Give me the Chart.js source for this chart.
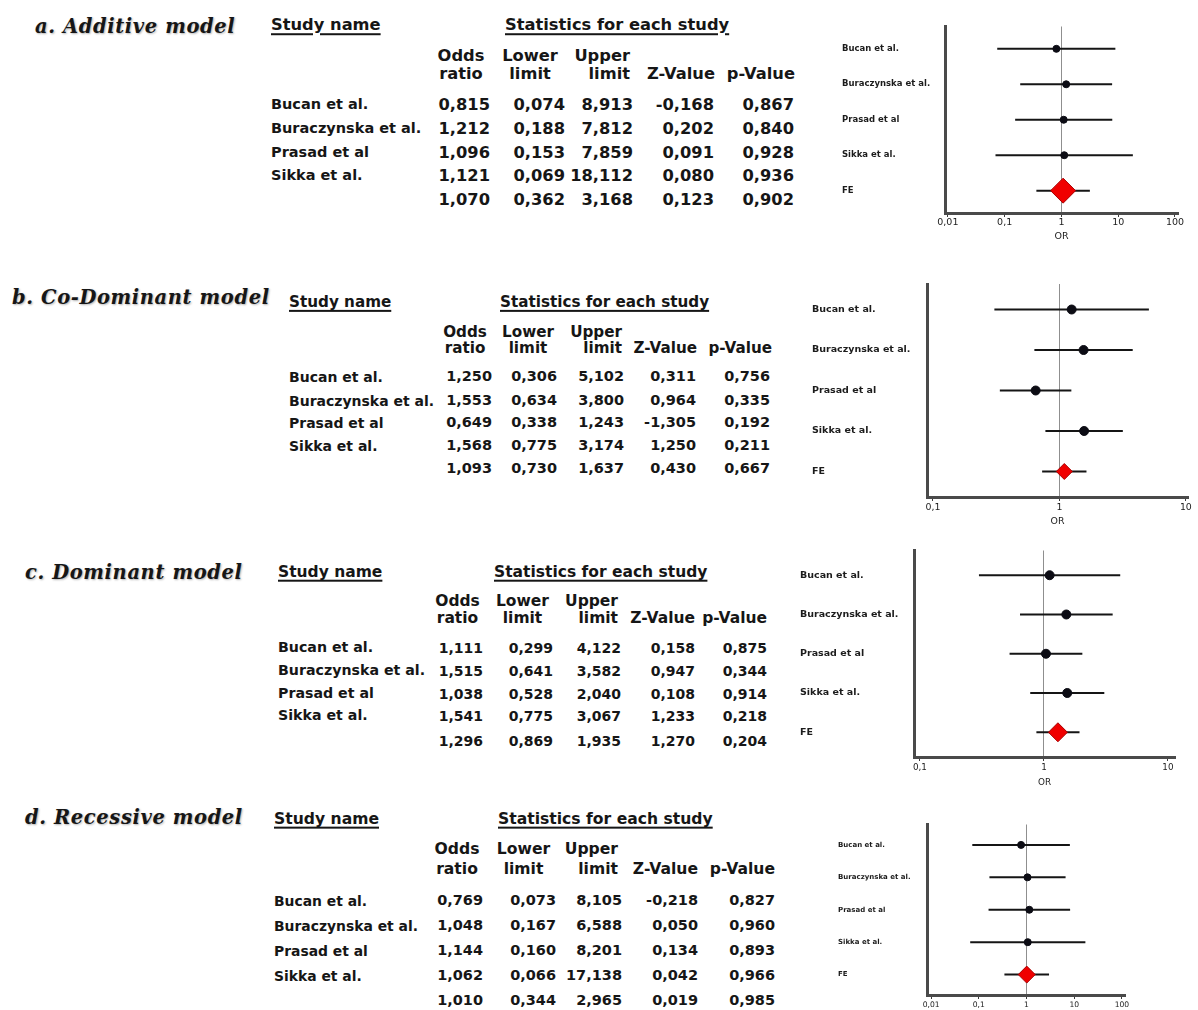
<!DOCTYPE html>
<html>
<head>
<meta charset="utf-8">
<script src="https://cdn.jsdelivr.net/npm/chart.js@4.4.1/dist/chart.umd.min.js"></script>
<style>
  html, body { margin: 0; padding: 0; background: #fff; overflow: hidden; }
  #page { position: relative; width: 1198px; height: 1010px; overflow: hidden;
          font-family: "DejaVu Sans", sans-serif; color: #161616; }
  .t { position: absolute; white-space: nowrap; line-height: 1.2; }
  .title { font-family: "DejaVu Serif", serif; font-weight: bold; font-style: italic;
           letter-spacing: 0.6px; text-shadow: 1px 1px 2px rgba(0,0,0,0.3); }
  .hd { font-weight: bold; text-decoration: underline; text-decoration-thickness: 2px;
        text-underline-offset: 3px; }
  .b { font-weight: bold; }
  canvas { position: absolute; filter: blur(0.3px); }
</style>
</head>
<body>
<div id="page"></div>
<script>
// ---- study rows and axis ticks ----
const studies = ['Bucan et al.', 'Buraczynska et al.', 'Prasad et al', 'Sikka et al.'];
const pooledLabel = 'FE';
const columnHeads = [['Odds', 'ratio'], ['Lower', 'limit'], ['Upper', 'limit'], ['', 'Z-Value'], ['', 'p-Value']];
const axisTicksWide = [0.01, 0.1, 1, 10, 100];
const axisTicksNarrow = [0.1, 1, 10];

// ---- a. Additive model (four studies, then fixed-effect pooled row) ----
const additiveOR    = [0.815, 1.212, 1.096, 1.121, 1.070];
const additiveLower = [0.074, 0.188, 0.153, 0.069, 0.362];
const additiveUpper = [8.913, 7.812, 7.859, 18.112, 3.168];
const additiveZ     = [-0.168, 0.202, 0.091, 0.080, 0.123];
const additiveP     = [0.867, 0.840, 0.928, 0.936, 0.902];

// ---- b. Co-Dominant model ----
const coDominantOR    = [1.250, 1.553, 0.649, 1.568, 1.093];
const coDominantLower = [0.306, 0.634, 0.338, 0.775, 0.730];
const coDominantUpper = [5.102, 3.800, 1.243, 3.174, 1.637];
const coDominantZ     = [0.311, 0.964, -1.305, 1.250, 0.430];
const coDominantP     = [0.756, 0.335, 0.192, 0.211, 0.667];

// ---- c. Dominant model ----
const dominantOR    = [1.111, 1.515, 1.038, 1.541, 1.296];
const dominantLower = [0.299, 0.641, 0.528, 0.775, 0.869];
const dominantUpper = [4.122, 3.582, 2.040, 3.067, 1.935];
const dominantZ     = [0.158, 0.947, 0.108, 1.233, 1.270];
const dominantP     = [0.875, 0.344, 0.914, 0.218, 0.204];

// ---- d. Recessive model ----
const recessiveOR    = [0.769, 1.048, 1.144, 1.062, 1.010];
const recessiveLower = [0.073, 0.167, 0.160, 0.066, 0.344];
const recessiveUpper = [8.105, 6.588, 8.201, 17.138, 2.965];
const recessiveZ     = [-0.218, 0.050, 0.134, 0.042, 0.019];
const recessiveP     = [0.827, 0.960, 0.893, 0.966, 0.985];

const models = [
  { title: 'a. Additive model',    or: additiveOR,   lower: additiveLower,   upper: additiveUpper,   z: additiveZ,   p: additiveP,   ticks: axisTicksWide },
  { title: 'b. Co-Dominant model', or: coDominantOR, lower: coDominantLower, upper: coDominantUpper, z: coDominantZ, p: coDominantP, ticks: axisTicksNarrow },
  { title: 'c. Dominant model',    or: dominantOR,   lower: dominantLower,   upper: dominantUpper,   z: dominantZ,   p: dominantP,   ticks: axisTicksNarrow },
  { title: 'd. Recessive model',   or: recessiveOR,  lower: recessiveLower,  upper: recessiveUpper,  z: recessiveZ,  p: recessiveP,  ticks: axisTicksWide }
];

// ---- page geometry for each block (table text + forest plot) ----
const layouts = [
  { titleX: 35, titleY: 27, titleSize: 19.5, nameX: 271, headY: 25, statsX: 505,
    colHeadY: [56, 74], rowsY: [105, 129, 153, 176, 200],
    numRight: [490, 565, 633, 714, 794],
    headPos: [[461, 'center'], [530, 'center'], [630, 'right'], [715, 'right'], [795, 'right']],
    headSize: 16.3, numSize: 16.3, nameSize: 14.5,
    plot: { labelX: 842, left: 945, right: 1178, top: 23, bottom: 213, canvasTop: 13, canvasBottom: 250, canvasRight: 1192,
            min: 0.0089, max: 113, labelSize: 8.5, tickSize: 9.5, tickY: 222, orY: 237, pointR: 3.5, diamondR: 12.5 } },
  { titleX: 12, titleY: 298, titleSize: 19.5, nameX: 289, headY: 302, statsX: 500,
    colHeadY: [332, 348], rowsY: [377, 401, 423, 446, 469],
    numRight: [492, 557, 624, 696, 770],
    headPos: [[465, 'center'], [528, 'center'], [622, 'right'], [697, 'right'], [772, 'right']],
    headSize: 15.2, numSize: 14.5, nameSize: 14,
    plot: { labelX: 812, left: 927, right: 1190, top: 283, bottom: 497, canvasTop: 275, canvasBottom: 532, canvasRight: 1197,
            min: 0.0897, max: 10.4, labelSize: 9.5, tickSize: 9.4, tickY: 508, orY: 522, pointR: 4.5, diamondR: 8 } },
  { titleX: 25, titleY: 573, titleSize: 19.5, nameX: 278, headY: 572, statsX: 494,
    colHeadY: [601, 618], rowsY: [648, 671, 694, 716, 741],
    numRight: [483, 553, 621, 695, 767],
    headPos: [[457.5, 'center'], [522.5, 'center'], [618, 'right'], [695, 'right'], [767, 'right']],
    headSize: 15.5, numSize: 14, nameSize: 14.2,
    plot: { labelX: 800, left: 914, right: 1175, top: 548, bottom: 757, canvasTop: 540, canvasBottom: 795, canvasRight: 1190,
            min: 0.0895, max: 11.4, labelSize: 9.5, tickSize: 8.8, tickY: 768, orY: 783, pointR: 4.5, diamondR: 9.5 } },
  { titleX: 25, titleY: 818, titleSize: 19.5, nameX: 274, headY: 819, statsX: 498,
    colHeadY: [849, 869], rowsY: [901, 926, 951, 976, 1001],
    numRight: [483, 556, 622, 698, 775],
    headPos: [[457, 'center'], [523.5, 'center'], [618, 'right'], [698, 'right'], [775, 'right']],
    headSize: 15.6, numSize: 14.5, nameSize: 13.9,
    plot: { labelX: 838, left: 927, right: 1125, top: 823, bottom: 995, canvasTop: 815, canvasBottom: 1030, canvasRight: 1140,
            min: 0.0082, max: 116, labelSize: 7, tickSize: 7.6, tickY: 1005, orY: 1020, pointR: 3.5, diamondR: 8.5 } }
];

const page = document.getElementById('page');
const fmt = v => v.toFixed(3).replace('.', ',');
const tickFmt = v => String(v).replace('.', ',');

function place(text, x, y, align, cls, size) {
  const el = document.createElement('div');
  el.className = 't ' + cls;
  el.textContent = text;
  el.style.fontSize = size + 'px';
  el.style.left = x + 'px';
  el.style.top = y + 'px';
  const tx = align === 'right' ? '-100%' : (align === 'center' ? '-50%' : '0');
  el.style.transform = 'translate(' + tx + ', -50%)';
  page.appendChild(el);
}

function drawTable(m, L) {
  place(m.title, L.titleX, L.titleY, 'left', 'title', L.titleSize);
  place('Study name', L.nameX, L.headY, 'left', 'hd', L.headSize);
  place('Statistics for each study', L.statsX, L.headY, 'left', 'hd', L.headSize);
  columnHeads.forEach((pair, c) => {
    const [x, align] = L.headPos[c];
    pair.forEach((word, r) => { if (word) place(word, x, L.colHeadY[r], align, 'b', L.headSize); });
  });
  studies.forEach((s, i) => place(s, L.nameX, L.rowsY[i], 'left', 'b', L.nameSize));
  const cols = [m.or, m.lower, m.upper, m.z, m.p];
  cols.forEach((col, c) => col.forEach((v, i) => place(fmt(v), L.numRight[c], L.rowsY[i], 'right', 'b', L.numSize)));
}

function drawForest(m, g) {
  const cv = document.createElement('canvas');
  const cl = g.labelX - 4;
  const w = g.canvasRight - cl, h = g.canvasBottom - g.canvasTop;
  cv.width = w; cv.height = h;
  cv.style.left = cl + 'px'; cv.style.top = g.canvasTop + 'px';
  cv.style.width = w + 'px'; cv.style.height = h + 'px';
  page.appendChild(cv);

  const rowLabels = studies.concat([pooledLabel]);
  const n = rowLabels.length;
  const datasets = [];
  // confidence interval whiskers
  for (let i = 0; i < n; i++) {
    datasets.push({ type: 'line', data: [{ x: m.lower[i], y: i }, { x: m.upper[i], y: i }],
      borderColor: '#151515', borderWidth: 2, pointRadius: 0, order: 3 });
  }
  // study point estimates
  datasets.push({ type: 'scatter', data: studies.map((s, i) => ({ x: m.or[i], y: i })),
    pointStyle: 'circle', pointRadius: g.pointR, backgroundColor: '#0c0c14', borderColor: '#0c0c14', order: 2 });
  // pooled (fixed effect) estimate
  datasets.push({ type: 'scatter', data: [{ x: m.or[n - 1], y: n - 1 }],
    pointStyle: 'rectRot', pointRadius: g.diamondR, backgroundColor: '#f00000', borderColor: '#a80000', borderWidth: 1, order: 1 });

  const tickLen = 4;
  const tickPad = Math.max(0, g.tickY - g.bottom - tickLen - g.tickSize * 0.6);
  const titlePad = Math.max(0, g.canvasBottom - g.orY - g.tickSize * 0.6);

  new Chart(cv, {
    type: 'scatter',
    data: { datasets },
    options: {
      responsive: false, animation: false, devicePixelRatio: 1,
      layout: { padding: { left: 4, top: g.top - g.canvasTop, right: g.canvasRight - g.right, bottom: 0 } },
      plugins: { legend: { display: false }, tooltip: { enabled: false } },
      scales: {
        x: {
          type: 'logarithmic', min: g.min, max: g.max, bounds: 'data',
          afterBuildTicks: s => { s.ticks = m.ticks.map(v => ({ value: v })); },
          afterFit: s => { s.height = g.canvasBottom - g.bottom; },
          ticks: { autoSkip: false, maxRotation: 0, padding: tickPad, color: '#1c1c1c',
                   font: { family: 'DejaVu Sans', size: g.tickSize }, callback: v => tickFmt(v) },
          grid: { display: true, drawOnChartArea: true, lineWidth: 1, drawTicks: true, tickLength: tickLen,
                  color: c => (c.tick && c.tick.value === 1) ? '#8f8f8f' : 'rgba(0,0,0,0)', tickColor: '#3a3a3a' },
          border: { display: true, color: '#4a4a4a', width: 3 },
          title: { display: true, text: 'OR', color: '#1c1c1c', font: { family: 'DejaVu Sans', size: g.tickSize },
                   padding: { top: 0, bottom: titlePad } }
        },
        y: {
          type: 'linear', reverse: true, min: -0.63, max: n - 1 + 0.63, bounds: 'data',
          afterBuildTicks: s => { s.ticks = rowLabels.map((_, i) => ({ value: i })); },
          afterFit: s => { s.width = g.left - g.labelX; },
          ticks: { autoSkip: false, crossAlign: 'far', color: '#1c1c1c',
                   font: { family: 'DejaVu Sans', size: g.labelSize, weight: 'bold' }, callback: v => rowLabels[v] },
          grid: { display: false },
          border: { display: true, color: '#4a4a4a', width: 3 }
        }
      }
    }
  });
}

models.forEach((m, k) => { drawTable(m, layouts[k]); drawForest(m, layouts[k].plot); });
</script>
</body>
</html>
